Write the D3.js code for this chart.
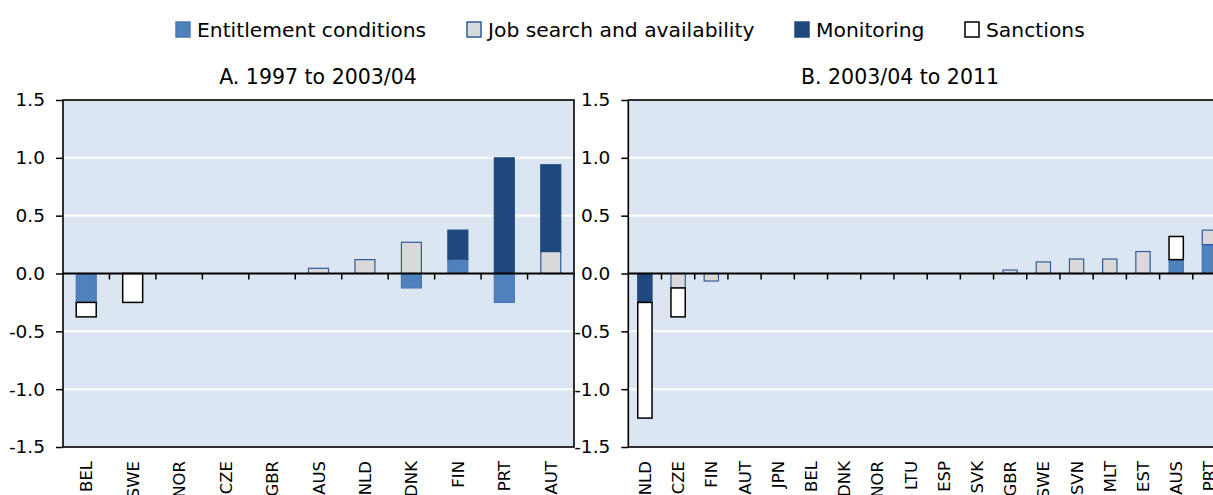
<!DOCTYPE html>
<html>
<head>
<meta charset="utf-8">
<script src="https://cdn.jsdelivr.net/npm/d3@7"></script>
<style>
  html, body { margin: 0; padding: 0; background: #fff; overflow: hidden; }
  svg { display: block; }
  text { font-family: "DejaVu Sans", "Liberation Sans", sans-serif; fill: #000; }
</style>
</head>
<body>
<div id="chart"></div>
<script>
// ---- Data ----
const seriesNames = ["Entitlement conditions", "Job search and availability", "Monitoring", "Sanctions"];
const seriesKeys = ["ent", "job", "mon", "san"];

const titleA = "A. 1997 to 2003/04";
const catsA = ["BEL", "SWE", "NOR", "CZE", "GBR", "AUS", "NLD", "DNK", "FIN", "PRT", "AUT"];
const entA  = [-0.25, 0, 0, 0, 0, 0,    0,     -0.125, 0.125, -0.25, 0];
const jobA  = [0,     0, 0, 0, 0, 0.045, 0.12,  0.27,   0,     0,     0.19];
const monA  = [0,     0, 0, 0, 0, 0,    0,      0,      0.25,  1.0,   0.75];
const sanA  = [-0.125, -0.25, 0, 0, 0, 0, 0,    0,      0,     0,     0];

const titleB = "B. 2003/04 to 2011";
const catsB = ["NLD", "CZE", "FIN", "AUT", "JPN", "BEL", "DNK", "NOR", "LTU", "ESP", "SVK", "GBR", "SWE", "SVN", "MLT", "EST", "AUS", "PRT"];
const entB  = [0,     0,      0,      0, 0, 0, 0, 0, 0, 0, 0, 0,    0,    0,     0,     0,    0.12, 0.25];
const jobB  = [0,    -0.125, -0.065,  0, 0, 0, 0, 0, 0, 0, 0, 0.03, 0.1,  0.125, 0.125, 0.19, 0,    0.125];
const monB  = [-0.25, 0,      0,      0, 0, 0, 0, 0, 0, 0, 0, 0,    0,    0,     0,     0,    0,    0];
const sanB  = [-1.0, -0.25,   0,      0, 0, 0, 0, 0, 0, 0, 0, 0,    0,    0,     0,     0,    0.2,  0];

const yTicks = [-1.5, -1.0, -0.5, 0.0, 0.5, 1.0, 1.5];

// ---- Styles ----
const fills   = { ent: "#4F81BD", job: "#D9D9D9", mon: "#1F497D", san: "#FFFFFF" };
const strokes = { ent: "#4A78B4", job: "#2F5C9A", mon: "#1F497D", san: "#000000" };

const W = 1213, H = 495;
const svg = d3.select("#chart").append("svg").attr("width", W).attr("height", H);

const yTop = 100, yBot = 447;
const y = d3.scaleLinear().domain([-1.5, 1.5]).range([yBot, yTop]);

function rows(cats, ent, job, mon, san) {
  return cats.map((c, i) => ({ cat: c, ent: ent[i], job: job[i], mon: mon[i], san: san[i] }));
}

function panel(cats, data, x0, x1, title, titleX) {
  const g = svg.append("g");
  const x = d3.scaleBand().domain(cats).range([x0, x1]).padding(0);
  const bw = x.bandwidth() * 0.43;

  g.append("rect").attr("x", x0).attr("y", yTop).attr("width", x1 - x0).attr("height", yBot - yTop)
    .attr("fill", "#DCE6F2");

  g.selectAll("line.grid").data(yTicks.filter(t => t !== 0 && Math.abs(t) !== 1.5)).enter()
    .append("line").attr("x1", x0).attr("x2", x1)
    .attr("y1", d => y(d)).attr("y2", d => y(d))
    .attr("stroke", "#FFFFFF").attr("stroke-width", 2);

  const stack = d3.stack().keys(seriesKeys).offset(d3.stackOffsetDiverging);
  const layers = stack(data);
  layers.forEach(layer => {
    const key = layer.key;
    g.selectAll("rect.b-" + key).data(layer.filter(d => Math.abs(d[1] - d[0]) > 1e-9)).enter()
      .append("rect")
      .attr("x", d => x(d.data.cat) + (x.bandwidth() - bw) / 2)
      .attr("y", d => y(Math.max(d[0], d[1])))
      .attr("width", bw)
      .attr("height", d => Math.abs(y(d[0]) - y(d[1])))
      .attr("fill", fills[key])
      .attr("stroke", strokes[key])
      .attr("stroke-width", key === "san" ? 1.5 : 1.2);
  });

  g.append("rect").attr("x", x0).attr("y", yTop).attr("width", x1 - x0).attr("height", yBot - yTop)
    .attr("fill", "none").attr("stroke", "#000").attr("stroke-width", 1.6);

  g.append("line").attr("x1", x0).attr("x2", x1).attr("y1", y(0)).attr("y2", y(0))
    .attr("stroke", "#000").attr("stroke-width", 2);

  const bounds = cats.slice(1).map(c => x(c));
  g.selectAll("line.ct").data(bounds).enter().append("line")
    .attr("x1", d => d).attr("x2", d => d)
    .attr("y1", y(0)).attr("y2", y(0) + 6)
    .attr("stroke", "#000").attr("stroke-width", 1.5);

  const yAxis = d3.axisLeft(y).tickValues(yTicks).tickFormat(d3.format(".1f")).tickSize(7).tickPadding(11);
  const ya = g.append("g").attr("transform", `translate(${x0},0)`).call(yAxis);
  ya.select(".domain").remove();
  ya.selectAll("line").attr("stroke", "#000").attr("stroke-width", 1.5);
  ya.selectAll("text").attr("font-size", 18.5).attr("font-family", "DejaVu Sans").attr("fill", "#000")
    .text(d => d3.format(".1f")(d).replace("−", "-"));

  g.selectAll("text.xl").data(cats).enter().append("text")
    .attr("transform", d => `translate(${x(d) + x.bandwidth() / 2 + 6},${yBot + 14}) rotate(-90)`)
    .attr("text-anchor", "end")
    .attr("font-size", 16.5)
    .text(d => d);

  g.append("text").attr("x", titleX).attr("y", 84).attr("text-anchor", "middle")
    .attr("font-size", 20.5).text(title);
}

panel(catsA, rows(catsA, entA, jobA, monA, sanA), 63, 574, titleA, 318);
panel(catsB, rows(catsB, entB, jobB, monB, sanB), 628.3, 1226, titleB, 900);

const legX = [176, 467, 795, 965];
const lg = svg.append("g");
seriesKeys.forEach((k, i) => {
  lg.append("rect").attr("x", legX[i]).attr("y", 22).attr("width", 14).attr("height", 15)
    .attr("fill", fills[k]).attr("stroke", k === "san" ? "#000" : strokes[k]).attr("stroke-width", 1.5);
  lg.append("text").attr("x", legX[i] + 21).attr("y", 37).attr("font-size", 20.3).text(seriesNames[i]);
});
</script>
</body>
</html>
